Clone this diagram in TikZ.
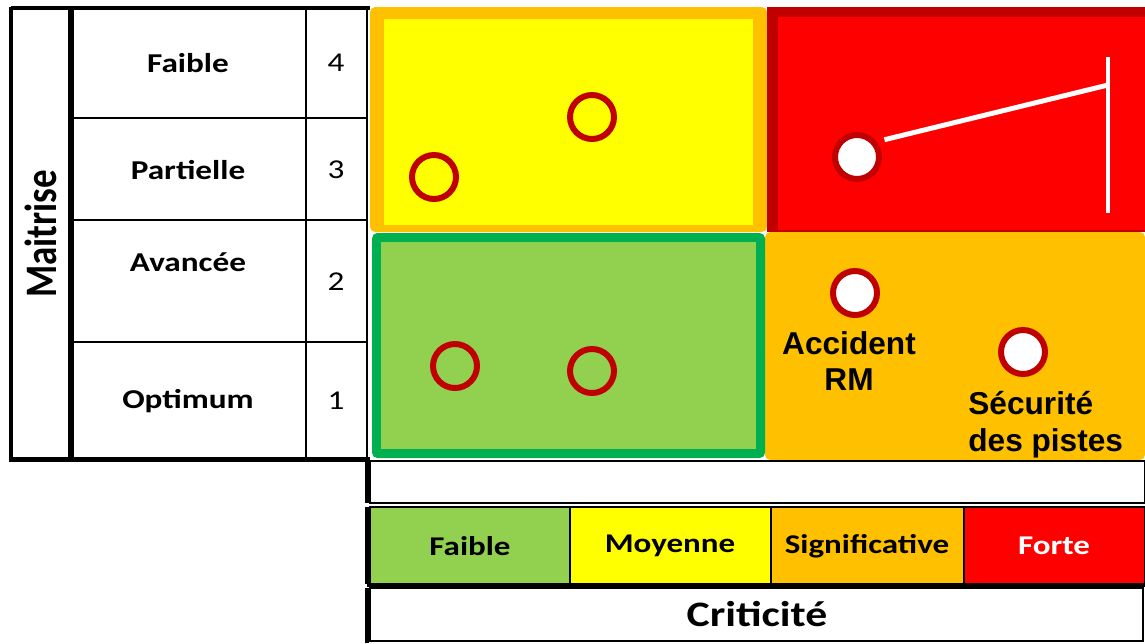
\documentclass[tikz,border=0pt]{standalone}
\usepackage{graphicx}
\usepackage{fontspec}
\newfontfamily\calibri{Carlito}
\newfontfamily\arialf{Liberation Sans}
\usetikzlibrary{calc}
\definecolor{yellowC}{HTML}{FFFF00}
\definecolor{orangeC}{HTML}{FFC000}
\definecolor{redC}{HTML}{FF0000}
\definecolor{darkredC}{HTML}{C00000}
\definecolor{greenC}{HTML}{00B050}
\definecolor{lightgreenC}{HTML}{92D050}
\newcommand{\widen}[1]{\scalebox{1.22}[1]{#1}}
\tikzstyle{tablethick}=[black,line width=2.6pt]
\tikzstyle{tablethin}=[black,line width=0.85pt]
\tikzstyle{rowlabel}=[font=\calibri\bfseries\fontsize{15.5}{18}\selectfont]
\tikzstyle{rownum}=[font=\calibri\fontsize{15.5}{18}\selectfont]
\tikzstyle{legendlabel}=[font=\calibri\bfseries\fontsize{15.4}{18}\selectfont]
\tikzstyle{risk}=[circle,draw=darkredC,line width=3.4pt,minimum size=0.88cm,inner sep=0pt]
\tikzstyle{riskwhite}=[risk,fill=white]
\tikzstyle{whiteline}=[white,line width=2.8pt]
\tikzstyle{risklabel}=[font=\arialf\bfseries\fontsize{18}{21}\selectfont,inner sep=0pt]

\begin{document}
\begin{tikzpicture}[x=0.02cm,y=-0.02cm]

  % White background, size of the slide
  \useasboundingbox (0,0) rectangle (1145,643);
  \fill[white] (0,0) rectangle (1145,643);

  % Matrix cells
  \fill[orangeC,rounded corners=3pt] (370,7) rectangle (767,232);
  \fill[yellowC] (384,19) rectangle (753,225);
  \fill[darkredC] (767,7) rectangle (1145,232);
  \fill[redC] (778,17) rectangle (1145,230);
  \fill[orangeC,rounded corners=3pt] (765,232) rectangle (1145,460);
  \fill[greenC,rounded corners=3pt] (372,233) rectangle (765,458);
  \fill[lightgreenC] (381,242) rectangle (756,449);

  % Left table
  \draw[tablethin] (71,118) -- (367,118);
  \draw[tablethin] (71,220) -- (367,220);
  \draw[tablethin] (71,342) -- (367,342);
  \draw[tablethin] (306,8) -- (306,458);
  \draw[tablethin] (367,8) -- (367,458);
  \draw[tablethick] (11,8) -- (370,8);
  \draw[tablethick] (11,6.7) -- (11,459.3) -- (370,459.3);
  \draw[tablethick,line width=3.3pt] (71,8) -- (71,458);

  % Legend rows
  \draw[tablethin,fill=white] (370,461) rectangle (1145,503);
  \fill[lightgreenC] (370,507) rectangle (570,584);
  \fill[yellowC] (570,507) rectangle (771,584);
  \fill[orangeC] (771,507) rectangle (964,584);
  \fill[redC] (964,507) rectangle (1145,584);
  \draw[tablethin] (370,507) rectangle (1145,584);
  \draw[tablethin] (570,507) -- (570,584);
  \draw[tablethin] (771,507) -- (771,584);
  \draw[tablethin] (964,507) -- (964,584);
  \draw[tablethick] (367,585) -- (1145,585);
  \draw[tablethin,fill=white] (370,588) rectangle (1143,641);
  \draw[tablethick] (367,458) -- (367,503);
  \draw[tablethick] (367,507) -- (367,584);
  \draw[tablethick] (367,588) -- (367,643);

  % Letters of the table
  \node[rotate=90,font=\calibri\bfseries\fontsize{21}{24}\selectfont]
    at (41,234) (axisMaitrise) {\scalebox{1}[1.22]{Maitrise}};
  \node[rowlabel] at (188,63)  (lvlFaible)    {\widen{Faible}};
  \node[rowlabel] at (188,170) (lvlPartielle) {\widen{Partielle}};
  \node[rowlabel] at (188,262) (lvlAvancee)   {\widen{Avancée}};
  \node[rowlabel] at (188,401) (lvlOptimum)   {\widen{Optimum}};
  \node[rownum] at (336,63)  (num4) {\widen{4}};
  \node[rownum] at (336,170) (num3) {\widen{3}};
  \node[rownum] at (336,282) (num2) {\widen{2}};
  \node[rownum] at (336,401) (num1) {\widen{1}};

  % Letters of the legend
  \node[legendlabel] at (470,546)  (critFaible)  {\widen{Faible}};
  \node[legendlabel] at (670,546)  (critMoyenne) {\widen{Moyenne}};
  \node[legendlabel] at (867,546)  (critSignif)  {\widen{Significative}};
  \node[legendlabel,white] at (1054,546) (critForte) {\widen{Forte}};
  \node[font=\calibri\bfseries\fontsize{20.4}{24}\selectfont]
    at (757,614) (axisCriticite) {\widen{Criticité}};

  % Risks
  \node[risk] at (434,177) (riskY1) {};
  \node[risk] at (592,117) (riskY2) {};
  \node[risk] at (455,366) (riskG1) {};
  \node[risk] at (592,371) (riskG2) {};
  \node[riskwhite] at (857,157) (riskR1) {};
  \node[riskwhite] at (855,293) (riskAccident) {};
  \node[riskwhite] at (1023,352) (riskPistes) {};

  % Arrow to the bar
  \coordinate (barTop)  at (1108,57);
  \coordinate (barJoin) at (1108,85);
  \coordinate (barBot)  at (1108,213);
  \draw[whiteline] (barTop) -- (barBot);
  \draw[whiteline,shorten <=0.16cm] (riskR1.38) -- (barJoin);

  % Risk names
  \node[risklabel,align=center] at (849,361) (nameAccident) {Accident\\RM};
  \node[risklabel,align=left,anchor=west] at (968,425) (namePistes) {Sécurité\\des pistes};

\end{tikzpicture}
\end{document}
